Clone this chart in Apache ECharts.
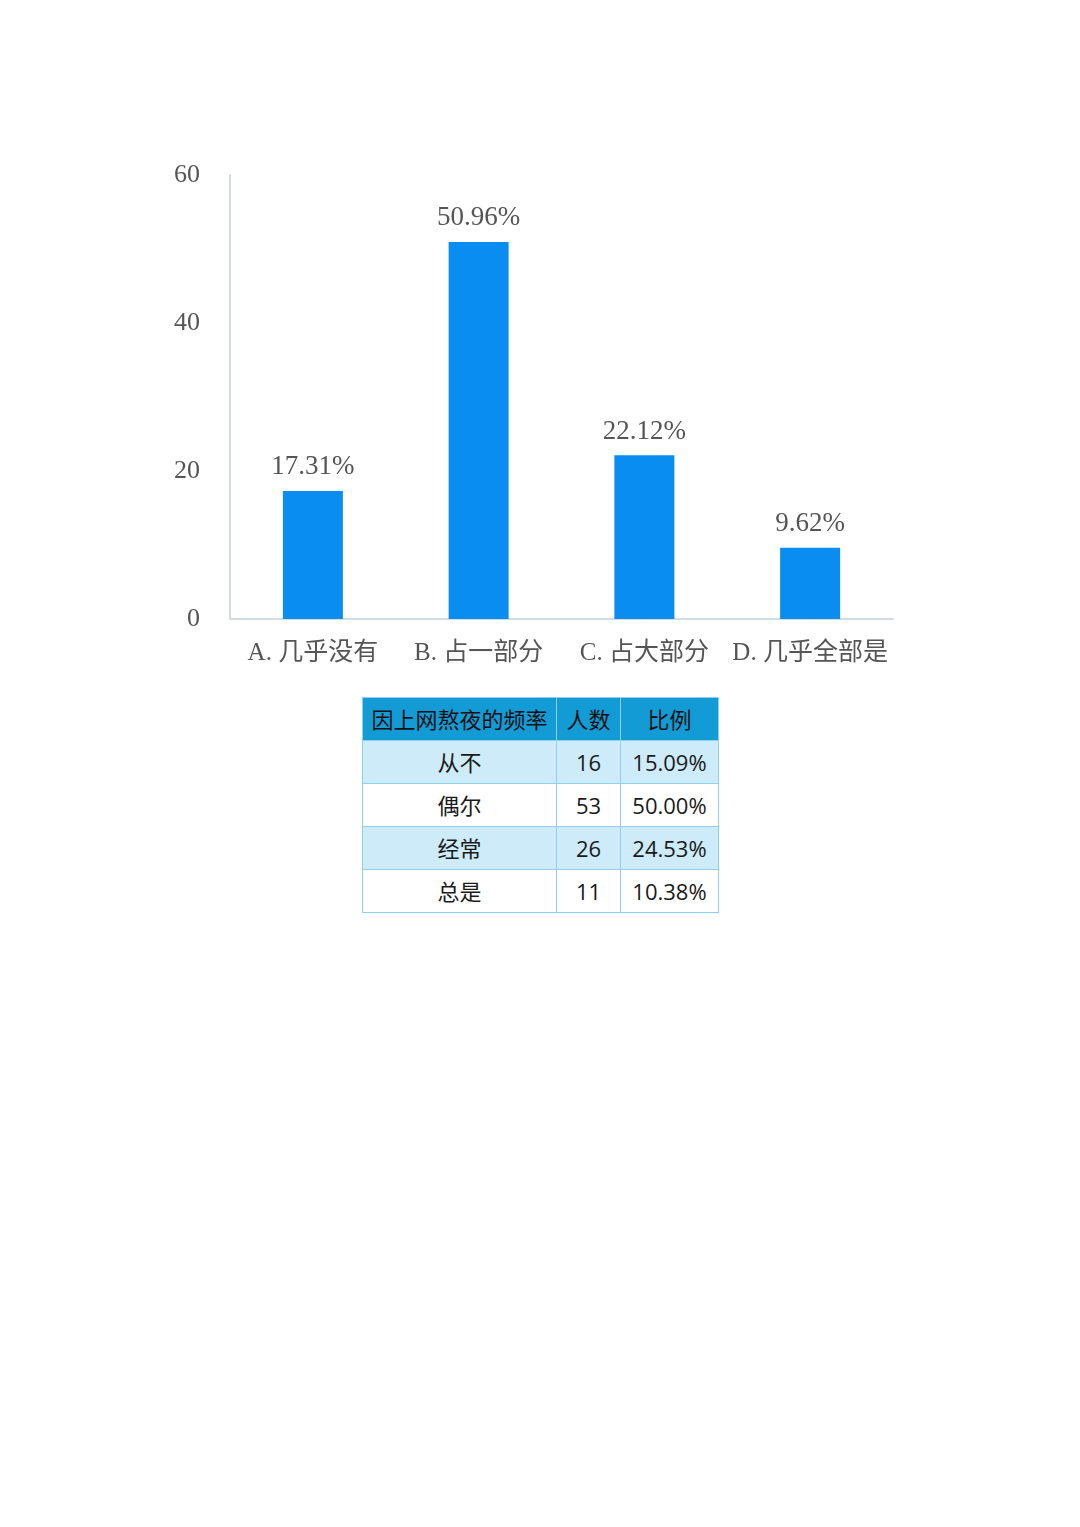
<!DOCTYPE html>
<html>
<head>
<meta charset="utf-8">
<script src="https://cdn.jsdelivr.net/npm/echarts@6/dist/echarts.min.js"></script>
<style>
html,body{margin:0;padding:0;background:#fff;width:1080px;height:1527px;overflow:hidden;}
#chart{position:absolute;left:0;top:0;width:1080px;height:690px;}
#tbl{position:absolute;left:362px;top:697px;border-collapse:collapse;font-family:"Open Sans","Noto Sans CJK SC",sans-serif;font-size:22px;color:#1a1a1a;}
#tbl td,#tbl th{border:1.5px solid #8ed0ef;text-align:center;padding:0;height:42px;line-height:42px;font-weight:normal;}
#tbl th{background:#139bd6;color:#111;}
#tbl tr.odd td{background:#cdebf8;}
#tbl tr.even td{background:#ffffff;}
</style>
</head>
<body>
<div id="chart"></div>
<table id="tbl"></table>
<script>
var categories = ['A. 几乎没有', 'B. 占一部分', 'C. 占大部分', 'D. 几乎全部是'];
var values = [17.31, 50.96, 22.12, 9.62];
var yTicks = [0, 20, 40, 60];

var tableHeader = ['因上网熬夜的频率', '人数', '比例'];
var tableFreq = ['从不', '偶尔', '经常', '总是'];
var tableCount = [16, 53, 26, 11];
var tablePct = ['15.09%', '50.00%', '24.53%', '10.38%'];

var chart = echarts.init(document.getElementById('chart'));
chart.setOption({
  animation: false,
  grid: {left: 230, right: 187, top: 175, height: 444},
  xAxis: {
    type: 'category',
    data: categories,
    axisLine: {show: true, lineStyle: {color: '#d5dbe3', width: 2}},
    axisTick: {show: false},
    axisLabel: {
      interval: 0, hideOverlap: false,
      margin: 22, color: '#555', fontSize: 25,
      fontFamily: '"Liberation Serif","Noto Sans CJK SC",serif'
    }
  },
  yAxis: {
    type: 'value', min: yTicks[0], max: yTicks[yTicks.length - 1], interval: 20,
    axisLine: {show: true, lineStyle: {color: '#d5dbe3', width: 2}},
    axisTick: {show: false},
    splitLine: {show: false},
    axisLabel: {
      margin: 30, color: '#555', fontSize: 26,
      fontFamily: '"Liberation Serif",serif'
    }
  },
  series: [{
    type: 'bar',
    data: values,
    barWidth: 60,
    itemStyle: {color: '#098df0'},
    label: {
      show: true, position: 'top', distance: 10,
      color: '#555', fontSize: 27,
      fontFamily: '"Liberation Serif",serif',
      formatter: function(p){ return p.value.toFixed(2) + '%'; }
    }
  }]
});

var tbl = document.getElementById('tbl');
var widths = [193, 63, 97];
var h = '<tr>' + tableHeader.map(function(t,i){return '<th style="width:'+widths[i]+'px">'+t+'</th>';}).join('') + '</tr>';
for (var i = 0; i < tableFreq.length; i++) {
  h += '<tr class="' + (i % 2 === 0 ? 'odd' : 'even') + '"><td>' + tableFreq[i] + '</td><td>' + tableCount[i] + '</td><td>' + tablePct[i] + '</td></tr>';
}
tbl.innerHTML = h;
</script>
</body>
</html>
